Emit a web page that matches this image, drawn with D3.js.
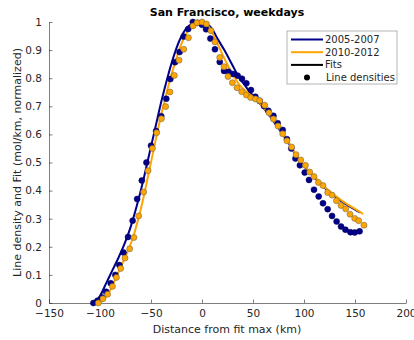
<!DOCTYPE html>
<html>
<head>
<meta charset="utf-8">
<script src="https://cdn.jsdelivr.net/npm/d3@7"></script>
<style>
  body { margin: 0; background: #fff; }
  svg { display: block; font-family: 'DejaVu Sans', sans-serif; }
</style>
</head>
<body>
<svg id="chart" width="414" height="340"></svg>
<script>
// Line density profiles, San Francisco weekdays (normalized)

const blueDotsKm = [-106.5, -102.5, -98, -94, -89.5, -85, -81, -77, -72.5, -68, -63.6, -59, -54.5, -50, -45, -40, -35, -31, -26.5, -22, -18, -13.5, -9, -4.5, 0, 4, 8.2, 12.7, 17.4, 21.6, 26, 30.4, 35, 39.2, 43.5, 48, 52.3, 56.6, 60.8, 65.1, 70, 74.2, 79.1, 83.3, 87.5, 91.6, 96, 100.7, 104.9, 109.8, 114.4, 118.6, 123.2, 127.5, 132, 136.3, 140.6, 145.5, 149.7, 154.5];
const blueDotsVal = [0, 0.008, 0.02, 0.04, 0.07, 0.1, 0.135, 0.18, 0.235, 0.293, 0.37, 0.436, 0.5, 0.56, 0.612, 0.665, 0.727, 0.797, 0.857, 0.893, 0.948, 0.975, 1.0, 0.997, 0.99, 0.974, 0.941, 0.903, 0.858, 0.826, 0.823, 0.815, 0.809, 0.798, 0.782, 0.758, 0.734, 0.719, 0.701, 0.684, 0.666, 0.64, 0.616, 0.583, 0.55, 0.514, 0.49, 0.464, 0.438, 0.403, 0.379, 0.355, 0.334, 0.31, 0.29, 0.272, 0.261, 0.252, 0.251, 0.255];

const orangeDotsKm = [-101.6, -97.1, -92.5, -87.8, -83.9, -79.7, -75.5, -70.9, -66.7, -62.1, -57.2, -52.9, -48.6, -44.4, -39.8, -35.6, -31.4, -27.1, -22.5, -17.9, -13.3, -8.8, -4.9, 0, 4.3, 8.8, 12.7, 17.4, 21.6, 25.5, 29.8, 34.3, 38.9, 43.5, 47.7, 52.4, 56.6, 61.5, 65.7, 70, 74.5, 79.1, 83.3, 87.9, 92.2, 96.8, 101.4, 105.6, 109.8, 114.1, 118.6, 123.2, 127.5, 131.8, 136.3, 140.9, 145.1, 149.7, 153.6, 158.8];
const orangeDotsVal = [0, 0.015, 0.031, 0.059, 0.091, 0.123, 0.16, 0.193, 0.233, 0.31, 0.395, 0.471, 0.55, 0.606, 0.656, 0.699, 0.751, 0.81, 0.864, 0.903, 0.944, 0.986, 0.997, 1.0, 0.993, 0.969, 0.929, 0.874, 0.841, 0.806, 0.784, 0.766, 0.752, 0.74, 0.731, 0.726, 0.72, 0.704, 0.677, 0.655, 0.63, 0.602, 0.577, 0.555, 0.528, 0.509, 0.49, 0.466, 0.45, 0.429, 0.418, 0.393, 0.384, 0.364, 0.347, 0.335, 0.316, 0.301, 0.293, 0.277];

const blueFitKm = [-106.5, -100, -94, -88, -82, -76, -70, -64, -58, -52, -46, -40, -34, -28, -22, -16, -10, -5, 0, 5, 10, 15, 21.9, 30, 36, 42, 47, 52, 57, 62, 67, 73.5, 80, 87, 94, 100, 110, 120, 127, 135, 143, 150, 155];
const blueFitVal = [0, 0.025, 0.07, 0.115, 0.16, 0.21, 0.27, 0.345, 0.43, 0.525, 0.62, 0.715, 0.8, 0.875, 0.935, 0.975, 0.993, 0.999, 1.0, 0.993, 0.975, 0.942, 0.9, 0.845, 0.805, 0.775, 0.75, 0.73, 0.71, 0.686, 0.662, 0.629, 0.595, 0.557, 0.512, 0.487, 0.447, 0.411, 0.389, 0.367, 0.347, 0.332, 0.322];

const orangeFitKm = [-101.5, -97, -93, -89, -85.6, -80, -75, -71.5, -67, -62.7, -58, -53, -48, -44, -40, -36, -31, -26, -21, -16, -10, -5, 0, 5, 10, 15, 20, 25, 30, 37, 42, 47, 52, 57, 62, 67, 73.5, 80, 87, 94, 100, 110, 120, 127, 135, 143, 150, 158];
const orangeFitVal = [0, 0.01, 0.028, 0.052, 0.08, 0.125, 0.165, 0.195, 0.24, 0.296, 0.365, 0.45, 0.535, 0.605, 0.67, 0.73, 0.8, 0.86, 0.915, 0.955, 0.985, 0.998, 1.0, 0.99, 0.962, 0.925, 0.885, 0.848, 0.815, 0.775, 0.757, 0.742, 0.728, 0.71, 0.688, 0.665, 0.632, 0.598, 0.56, 0.515, 0.49, 0.45, 0.414, 0.392, 0.37, 0.35, 0.335, 0.317];

const xTicks = [-150, -100, -50, 0, 50, 100, 150, 200];
const yTicks = [0, 0.1, 0.2, 0.3, 0.4, 0.5, 0.6, 0.7, 0.8, 0.9, 1];
const legendLabels = ['2005-2007', '2010-2012', 'Fits', 'Line densities'];

const BLUE = '#00008b';
const ORANGE = '#ffa500';
const AXIS = '#262626';

const svg = d3.select('#chart');
const margin = { left: 49, right: 8, top: 22, bottom: 37 };
const W = 414, H = 340;

const x = d3.scaleLinear().domain([-150, 200]).range([margin.left, W - margin.right]);
const y = d3.scaleLinear().domain([0, 1]).range([H - margin.bottom, margin.top]);

// axes (MATLAB style: ticks inside, no box)
const xAxis = d3.axisBottom(x).tickValues(xTicks).tickSizeInner(-3.5).tickSizeOuter(0).tickPadding(7);
const yAxis = d3.axisLeft(y).tickValues(yTicks).tickSizeInner(-3.5).tickSizeOuter(0).tickPadding(7)
  .tickFormat(d => d3.format('~g')(d));

const gx = svg.append('g').attr('transform', `translate(0,${y(0)})`).call(xAxis);
const gy = svg.append('g').attr('transform', `translate(${x(-150)},0)`).call(yAxis);
[gx, gy].forEach(g => {
  g.select('.domain').attr('stroke', AXIS).attr('stroke-width', 0.6);
  g.selectAll('.tick line').attr('stroke', AXIS).attr('stroke-width', 0.6);
  g.selectAll('.tick text').attr('fill', AXIS).style('font-size', '10.5px').style('font-family', 'DejaVu Sans');
});

// fits
const line = d3.line().x(d => x(d[0])).y(d => y(d[1])).curve(d3.curveMonotoneX);
svg.append('path')
  .datum(d3.zip(blueFitKm, blueFitVal))
  .attr('d', line).attr('fill', 'none').attr('stroke', BLUE).attr('stroke-width', 2);
svg.append('path')
  .datum(d3.zip(orangeFitKm, orangeFitVal))
  .attr('d', line).attr('fill', 'none').attr('stroke', ORANGE).attr('stroke-width', 2);

// line densities
svg.append('g').selectAll('circle')
  .data(d3.zip(blueDotsKm, blueDotsVal))
  .join('circle')
    .attr('cx', d => x(d[0])).attr('cy', d => y(d[1])).attr('r', 3)
    .attr('fill', BLUE).attr('stroke', '#000050').attr('stroke-width', 0.5);
svg.append('g').selectAll('circle')
  .data(d3.zip(orangeDotsKm, orangeDotsVal))
  .join('circle')
    .attr('cx', d => x(d[0])).attr('cy', d => y(d[1])).attr('r', 3)
    .attr('fill', ORANGE).attr('stroke', '#7a6a4a').attr('stroke-width', 0.6);

// title and axis labels
svg.append('text')
  .attr('x', 227).attr('y', 16)
  .attr('text-anchor', 'middle')
  .style('font-size', '11px').style('font-weight', 'bold')
  .attr('fill', '#000')
  .text('San Francisco, weekdays');

svg.append('text')
  .attr('x', 227).attr('y', 333)
  .attr('text-anchor', 'middle')
  .style('font-size', '11px')
  .attr('fill', AXIS)
  .text('Distance from fit max (km)');

svg.append('text')
  .attr('transform', `translate(21,${(y(0) + y(1)) / 2}) rotate(-90)`)
  .attr('text-anchor', 'middle')
  .style('font-size', '11px')
  .attr('fill', AXIS)
  .text('Line density and Fit (mol/km, normalized)');

// legend
const lg = svg.append('g').attr('transform', 'translate(287,31)');
lg.append('rect')
  .attr('width', 110).attr('height', 53)
  .attr('fill', '#fff').attr('stroke', '#a0a0a0').attr('stroke-width', 0.8);
const legendColors = [BLUE, ORANGE, '#000', '#000'];
legendLabels.forEach((lab, i) => {
  const cy = 8.5 + i * 12.7;
  if (i < 3) {
    lg.append('line')
      .attr('x1', 4).attr('x2', 36).attr('y1', cy).attr('y2', cy)
      .attr('stroke', legendColors[i]).attr('stroke-width', 2);
  } else {
    lg.append('circle').attr('cx', 20).attr('cy', cy).attr('r', 3).attr('fill', '#000');
  }
  lg.append('text')
    .attr('x', i < 3 ? 38 : 39).attr('y', cy).attr('dy', '0.35em')
    .style('font-size', '10px')
    .attr('fill', AXIS)
    .text(lab);
});
</script>
</body>
</html>
